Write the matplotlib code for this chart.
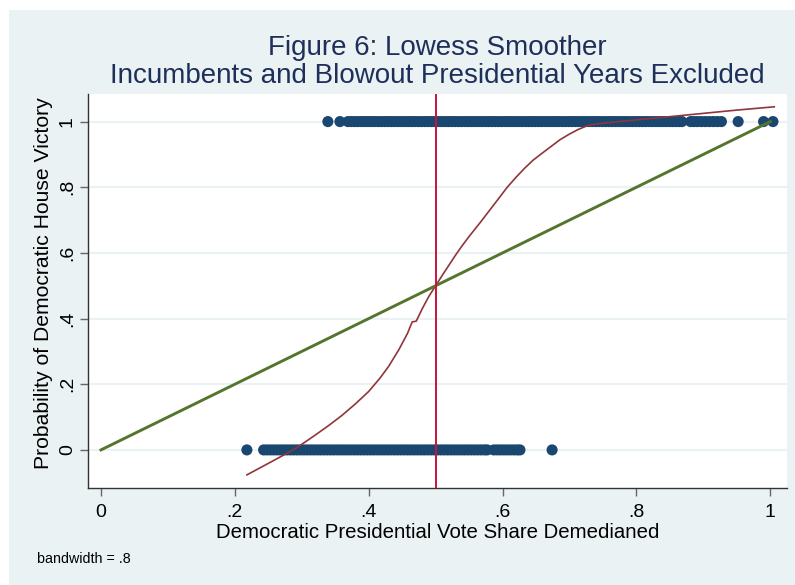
import matplotlib
matplotlib.use("Agg")
import matplotlib.pyplot as plt
from matplotlib.patches import Rectangle

plt.rcParams['font.family'] = ['Liberation Sans', 'DejaVu Sans']

# ---- data ----
wins_x = [0.339, 0.357, 0.369, 0.374, 0.379, 0.384, 0.389, 0.394, 0.399, 0.404,
          0.409, 0.414, 0.419, 0.424, 0.429, 0.434, 0.439, 0.444, 0.449, 0.454,
          0.459, 0.464, 0.469, 0.474, 0.479, 0.484, 0.489, 0.494, 0.499, 0.504,
          0.509, 0.514, 0.519, 0.524, 0.529, 0.534, 0.539, 0.544, 0.549, 0.554,
          0.559, 0.564, 0.569, 0.574, 0.579, 0.584, 0.589, 0.594, 0.599, 0.604,
          0.609, 0.614, 0.619, 0.624, 0.629, 0.634, 0.639, 0.644, 0.649, 0.654,
          0.659, 0.664, 0.669, 0.674, 0.679, 0.684, 0.689, 0.694, 0.699, 0.704,
          0.709, 0.714, 0.719, 0.724, 0.729, 0.734, 0.739, 0.744, 0.749, 0.754,
          0.759, 0.764, 0.769, 0.774, 0.779, 0.784, 0.789, 0.794, 0.799, 0.804,
          0.809, 0.814, 0.819, 0.824, 0.829, 0.834, 0.839, 0.844, 0.849, 0.854,
          0.859, 0.864, 0.868, 0.881, 0.886, 0.891, 0.897, 0.903, 0.909, 0.915,
          0.921, 0.927, 0.952, 0.990, 1.004]
wins_y = [1] * len(wins_x)

losses_x = [0.218, 0.243, 0.248, 0.253, 0.258, 0.263, 0.268, 0.273, 0.278, 0.283,
            0.288, 0.293, 0.298, 0.303, 0.308, 0.313, 0.318, 0.323, 0.328, 0.333,
            0.338, 0.343, 0.348, 0.353, 0.358, 0.363, 0.368, 0.373, 0.378, 0.383,
            0.388, 0.393, 0.398, 0.403, 0.408, 0.413, 0.418, 0.423, 0.428, 0.433,
            0.438, 0.443, 0.448, 0.453, 0.458, 0.463, 0.468, 0.473, 0.478, 0.483,
            0.488, 0.493, 0.498, 0.503, 0.508, 0.513, 0.518, 0.523, 0.528, 0.533,
            0.538, 0.543, 0.548, 0.553, 0.558, 0.563, 0.568, 0.573, 0.577, 0.587,
            0.592, 0.597, 0.602, 0.607, 0.612, 0.617, 0.622, 0.626, 0.674]
losses_y = [0] * len(losses_x)

lowess_x = [0.218, 0.24, 0.26, 0.287, 0.30, 0.32, 0.34, 0.36, 0.38, 0.40,
            0.417, 0.43, 0.445, 0.458, 0.465, 0.471, 0.48, 0.49, 0.50, 0.51,
            0.52, 0.53, 0.54, 0.55, 0.566, 0.58, 0.595, 0.607, 0.62, 0.633,
            0.646, 0.66, 0.673, 0.686, 0.70, 0.713, 0.726, 0.74, 0.76, 0.80,
            0.85, 0.90, 0.95, 1.006]
lowess_y = [-0.076, -0.052, -0.030, 0.0, 0.017, 0.045, 0.074, 0.105, 0.140, 0.178,
            0.219, 0.255, 0.305, 0.355, 0.39, 0.392, 0.43, 0.468, 0.50, 0.532,
            0.563, 0.594, 0.623, 0.650, 0.691, 0.728, 0.768, 0.80, 0.83, 0.858,
            0.883, 0.905, 0.925, 0.945, 0.962, 0.976, 0.987, 0.993, 0.997, 1.005,
            1.015, 1.025, 1.035, 1.045]

diag_x = [0, 1]
diag_y = [0, 1]
cutoff = 0.5

ticks = [0, 0.2, 0.4, 0.6, 0.8, 1]
tick_labels = ['0', '.2', '.4', '.6', '.8', '1']

W, H = 795, 585
fig = plt.figure(figsize=(W / 100, H / 100), dpi=100, facecolor='white')
bg = Rectangle((9 / W, 0), 1 - 9 / W, 1 - 10 / H, transform=fig.transFigure,
               facecolor='#EAF2F3', edgecolor='none', zorder=-10)
fig.patches.append(bg)

L, R, T, B = 88, 787, 94, 488
ax = fig.add_axes([L / W, 1 - B / H, (R - L) / W, (B - T) / H])
ax.set_facecolor('white')

ax.set_xlim(-0.0194, 1.025)
ax.set_ylim(-0.116, 1.084)

for t in ticks:
    ax.axhline(t, color='#EAF2F3', lw=1.5, zorder=0)

navy = '#1A476F'
ax.scatter(wins_x, wins_y, s=64, color=navy, edgecolors='none', zorder=2)
ax.scatter(losses_x, losses_y, s=64, color=navy, edgecolors='none', zorder=2)
ax.plot(lowess_x, lowess_y, color='#90353B', lw=1.2, zorder=3)
ax.plot(diag_x, diag_y, color='#55752F', lw=2.1, zorder=3)
ax.axvline(cutoff, color='#C8143C', lw=1.4, zorder=4)

ax.set_xticks(ticks)
ax.set_xticklabels(tick_labels)
ax.set_yticks(ticks)
ax.set_yticklabels(tick_labels, rotation=90, va='center')
ax.tick_params(axis='both', direction='out', length=5.8, width=1.0,
               color='#666666', labelsize=14, labelcolor='black', pad=4)
ax.tick_params(axis='x', pad=5.5)
ax.tick_params(axis='y', pad=3)

for s in ['top', 'right']:
    ax.spines[s].set_visible(False)
for s in ['left', 'bottom']:
    ax.spines[s].set_color('#333333')
    ax.spines[s].set_linewidth(1.0)

title_color = '#1E2F5A'
cx = (L + R) / 2 / W
fig.text(cx, 1 - 55 / H, 'Figure 6: Lowess Smoother', ha='center', va='baseline',
         fontsize=20, color=title_color)
fig.text(cx, 1 - 83 / H, 'Incumbents and Blowout Presidential Years Excluded',
         ha='center', va='baseline', fontsize=20, color=title_color)

fig.text(438 / W, 1 - 538 / H, 'Democratic Presidential Vote Share Demedianed',
         ha='center', va='baseline', fontsize=14.7, color='black')
fig.text(44 / W, 1 - 283 / H, 'Probability of Democratic House Victory',
         ha='center', va='center', rotation=90, fontsize=15.2, color='black')
fig.text(37 / W, 1 - 563 / H, 'bandwidth = .8', ha='left', va='baseline',
         fontsize=10.3, color='black')

fig.savefig('out.png', dpi=100, facecolor='white')
